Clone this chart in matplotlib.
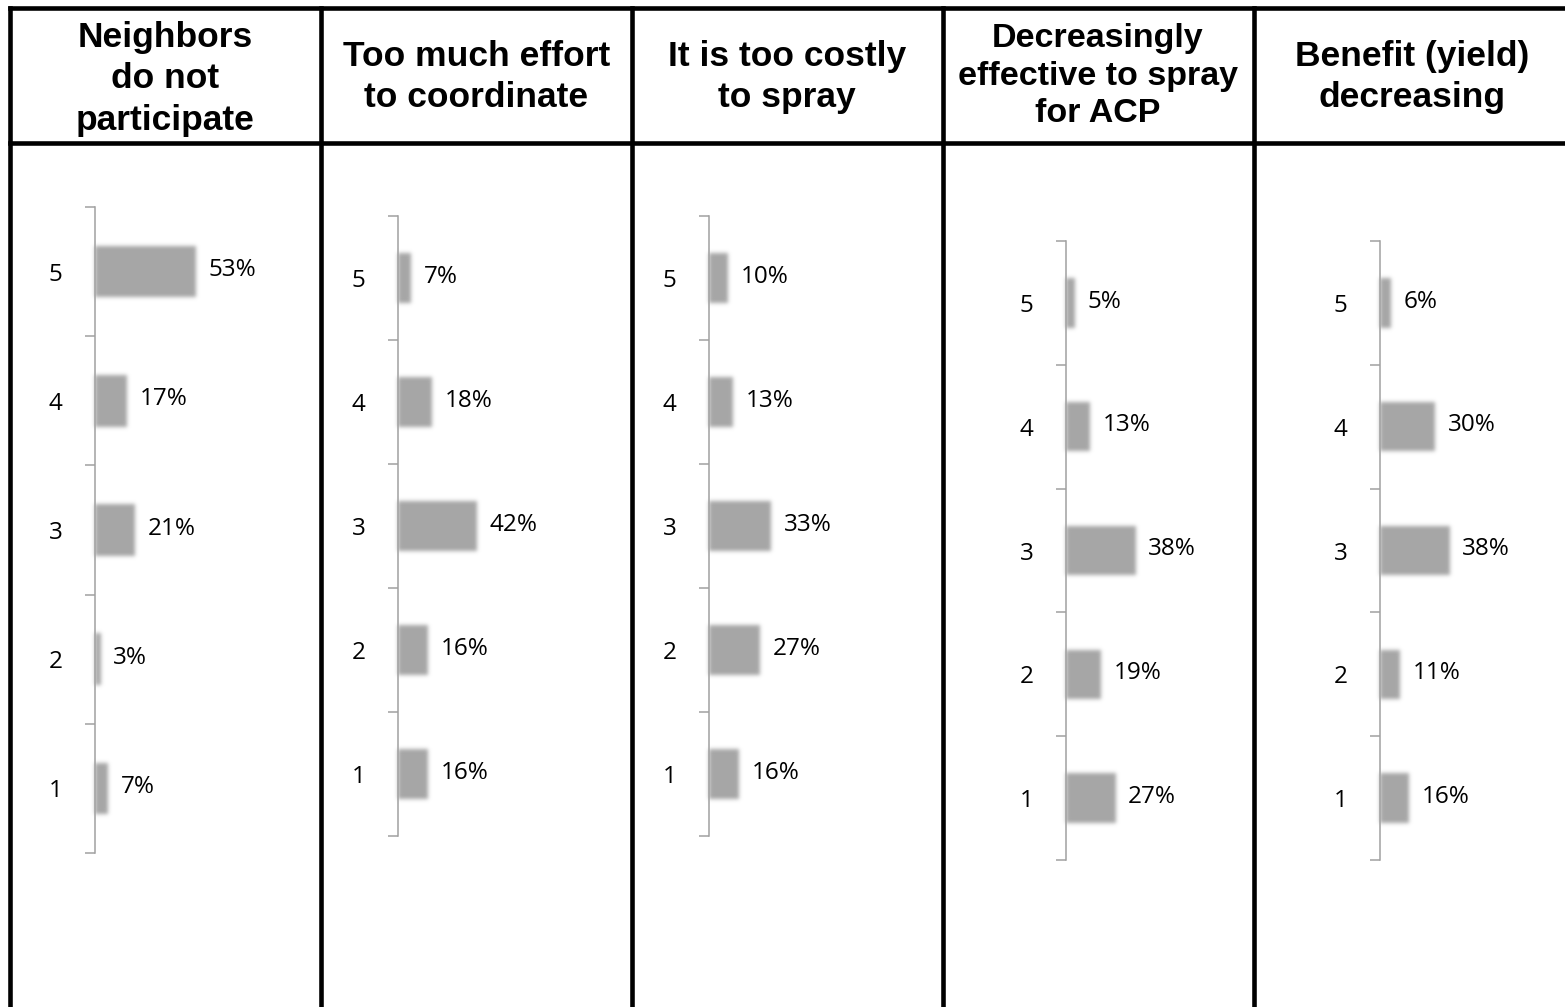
import numpy as np
import matplotlib
matplotlib.use('Agg')
import matplotlib.pyplot as plt
from matplotlib.lines import Line2D

# survey responses: share of growers picking each rating (1-5) per reason
headers = ['Neighbors\ndo not\nparticipate',
           'Too much effort\nto coordinate',
           'It is too costly\nto spray',
           'Decreasingly\neffective to spray\nfor ACP',
           'Benefit (yield)\ndecreasing']
ratings = [1, 2, 3, 4, 5]
neighbors = [7, 3, 21, 17, 53]
effort = [16, 16, 42, 18, 7]
costly = [16, 27, 33, 13, 10]
effective = [27, 19, 38, 13, 5]
benefit = [16, 11, 38, 30, 6]
series = [neighbors, effort, costly, effective, benefit]

W, H = 1565, 1007
BAR_COLOR = '#a6a6a6'
AXIS_COLOR = '#a0a0a0'


def _smooth(arr, k, r):
    tmp = np.zeros_like(arr)
    for i, w in enumerate(k):
        tmp += w * np.roll(arr, i - r, axis=0)
    out = np.zeros_like(arr)
    for i, w in enumerate(k):
        out += w * np.roll(tmp, i - r, axis=1)
    return out


def soft_edges(im, dpi, sigma=2.0):
    # gaussian blur used as agg_filter so the bars get soft edges
    r = int(3 * sigma)
    k = np.exp(-0.5 * (np.arange(-r, r + 1) / sigma) ** 2)
    k /= k.sum()
    pad = np.pad(im, [(r, r), (r, r), (0, 0)])
    a = pad[..., 3:4]
    a_b = _smooth(a, k, r)
    rgb_b = _smooth(pad[..., :3] * a, k, r)
    rgb = np.where(a_b > 1e-4, rgb_b / np.maximum(a_b, 1e-4), 0)
    out = np.concatenate([np.clip(rgb, 0, 1), np.clip(a_b, 0, 1)], axis=2)
    return out, -r, -r


fig = plt.figure(figsize=(W / 100, H / 100), dpi=100)

# table grid (pixel positions)
col_edges = [10, 321, 632, 942.5, 1253.5, 1570]
head_bottom = 142.5
top = 8
lw = 3.3


def px_line(xs, ys):
    fig.add_artist(Line2D([x / W for x in xs], [1 - y / H for y in ys],
                          color='black', lw=lw, solid_capstyle='projecting'))


px_line([col_edges[0], W], [top, top])
px_line([col_edges[0], W], [head_bottom, head_bottom])
for x in col_edges[:-1]:
    px_line([x, x], [top, H + 5])

head_sizes = [25.5, 25.5, 25.5, 24.5, 25.5]
head_spacing = [1.31, 1.27, 1.27, 1.27, 1.27]
head_y = [79, 77, 77, 76, 77]
for i, txt in enumerate(headers):
    cx = (col_edges[i] + col_edges[i + 1]) / 2
    fig.text(cx / W, 1 - head_y[i] / H, txt, ha='center', va='center',
             fontsize=head_sizes[i], fontweight='bold',
             family='Liberation Sans', linespacing=head_spacing[i])

# mini bar charts: spine x, top, bottom (pixels) and pixels per percent
panels = [(95, 207, 853, 1.9),
          (398, 216, 836, 1.88),
          (709, 216, 836, 1.88),
          (1066, 241, 860, 1.84),
          (1380, 241, 860, 1.84)]

for vals, (x0, y0, y1, scale) in zip(series, panels):
    ax = fig.add_axes([x0 / W, 1 - y1 / H, 100 * scale / W, (y1 - y0) / H])
    bars = ax.barh(ratings, vals, height=0.4, color=BAR_COLOR, zorder=1)
    for b in bars:
        b.set_agg_filter(soft_edges)
    for r, v in zip(ratings, vals):
        ax.annotate(f'{v}%', (v, r), xytext=(9, 1), textcoords='offset points',
                    ha='left', va='center', fontsize=17.5, family='Open Sans',
                    annotation_clip=False)
    ax.set_xlim(0, 100)
    ax.set_ylim(0.5, 5.5)
    ax.set_yticks(ratings)
    ax.set_yticklabels([str(r) for r in ratings], family='Open Sans', fontsize=17.5)
    ax.set_yticks(np.arange(0.5, 6, 1), minor=True)
    ax.tick_params(axis='y', which='major', length=0, pad=23.5)
    ax.tick_params(axis='y', which='minor', length=7.5, width=1.1,
                   color=AXIS_COLOR, direction='out')
    ax.xaxis.set_visible(False)
    for s in ['top', 'right', 'bottom']:
        ax.spines[s].set_visible(False)
    ax.spines['left'].set_color(AXIS_COLOR)
    ax.spines['left'].set_linewidth(1.1)
    ax.spines['left'].set_zorder(3)
    ax.patch.set_visible(False)

fig.savefig('out.png', dpi=100)
